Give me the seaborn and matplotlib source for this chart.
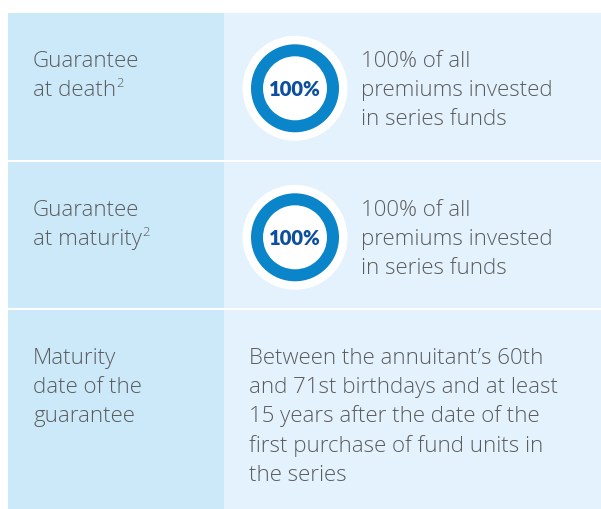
import matplotlib
matplotlib.use("Agg")
import matplotlib.pyplot as plt
from matplotlib.patches import Rectangle, Circle
import seaborn as sns

sns.set_theme(style="white")
plt.rcParams["font.family"] = ["Open Sans", "DejaVu Sans"]

# ---------------------------------------------------------------------------
# Content
# ---------------------------------------------------------------------------
row_labels = [
    ["Guarantee", "at death"],
    ["Guarantee", "at maturity"],
    ["Maturity", "date of the", "guarantee"],
]
footnotes = ["2", "2", ""]
guarantee_pct = [100, 100]
pct_labels = ["100%", "100%"]
descriptions = [
    ["100% of all", "premiums invested", "in series funds"],
    ["100% of all", "premiums invested", "in series funds"],
    ["Between the annuitant\u2019s 60th", "and 71st birthdays and at least",
     "15 years after the date of the", "first purchase of fund units in",
     "the series"],
]

LEFT_BG = "#cce9f9"
RIGHT_BG = "#e3f2fc"
RING = "#0a85c9"
PCT_TXT = "#0b4f9e"
TXT = "#5b5c5e"

W, H = 601, 509
row_top = [13, 162, 310]
row_bot = [160, 308, 509]
x0, xmid, x1 = 8, 224, 601
line_h = 29.2
FS = 16


def set_frame():
    ax.set_xlim(0, W)
    ax.set_ylim(H, 0)
    ax.set_aspect("equal")
    ax.axis("off")


fig = plt.figure(figsize=(W / 100, H / 100), dpi=100)
ax = fig.add_axes([0, 0, 1, 1])

last_lines = []
for i in range(len(row_labels)):
    top, bot = row_top[i], row_bot[i]
    ax.add_patch(Rectangle((x0, top), xmid - x0, bot - top, color=LEFT_BG, lw=0))
    ax.add_patch(Rectangle((xmid, top), x1 - xmid, bot - top, color=RIGHT_BG, lw=0))

    # donut
    if i < len(guarantee_pct):
        cx, cy = 295, top + 75.3
        ax.add_patch(Circle((cx, cy), 52.5, color="white", lw=0))
        pct = guarantee_pct[i]
        ax.pie([pct, 100 - pct], colors=[RING, "white"], center=(cx, cy),
               radius=44, startangle=90, counterclock=False,
               wedgeprops=dict(width=12, linewidth=0))
        ax.text(cx, cy + 1, pct_labels[i], fontsize=14.5, color=PCT_TXT,
                fontweight="heavy", ha="center", va="center",
                family=["Lato", "DejaVu Sans"])
        tx = 361
    else:
        tx = 249

    base = top + 54
    last = None
    for k, line in enumerate(row_labels[i]):
        last = ax.text(33, base + k * line_h, line, fontsize=FS, color=TXT,
                       va="baseline", ha="left", fontweight="light")
    last_lines.append((last, base + (len(row_labels[i]) - 1) * line_h))

    for k, line in enumerate(descriptions[i]):
        ax.text(tx, base + k * line_h, line, fontsize=FS, color=TXT,
                va="baseline", ha="left", fontweight="light")

set_frame()

# superscript footnote markers after the last label line
fig.canvas.draw()
for (t, y), note in zip(last_lines, footnotes):
    if note:
        bb = t.get_window_extent().transformed(ax.transData.inverted())
        ax.text(bb.x1 + 0.5, y - 9, note, fontsize=9.5, color=TXT,
                va="baseline", ha="left", fontweight="light")

fig.savefig("out.png", dpi=100, facecolor="white")
